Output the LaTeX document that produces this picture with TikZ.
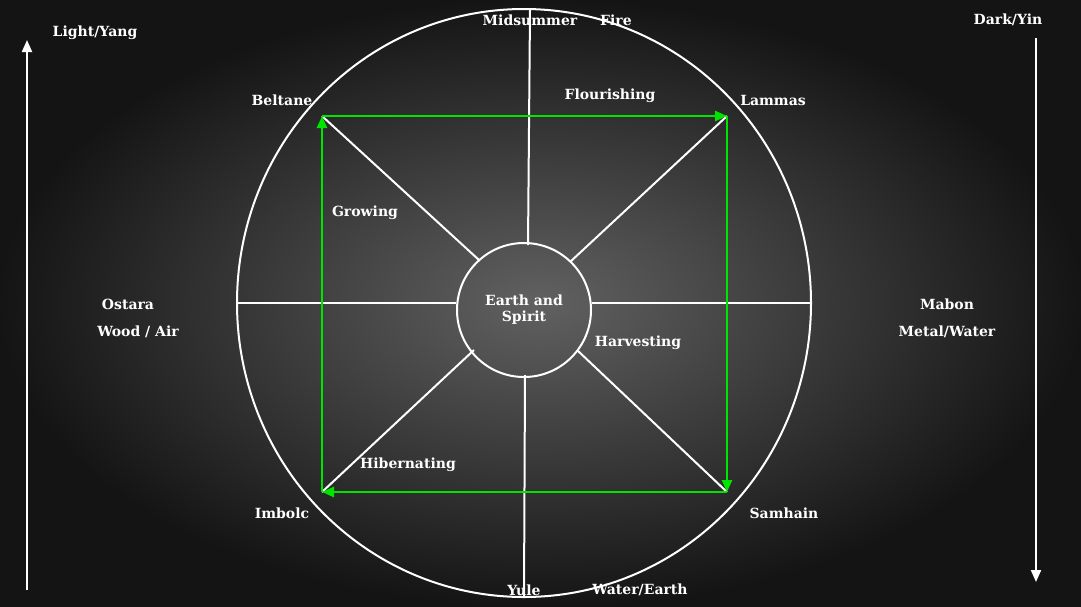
\documentclass[tikz,border=0pt]{standalone}
\usepackage{fontspec}
\setmainfont{DejaVu Serif}
\usetikzlibrary{arrows.meta,shapes.geometric}
\tikzset{>={Triangle[width=10pt,length=12pt]}}
\tikzset{lbl/.style={text=white,font=\fontsize{14}{16}\selectfont\bfseries,inner sep=1pt},
  wline/.style={draw=white,line width=2pt},
  gline/.style={draw=green!90!black,line width=2.6pt,->}}

\begin{document}
\begin{tikzpicture}[x=1pt,y=-1pt]
  \useasboundingbox (0,0) rectangle (1081,606);
  \shade[inner color=black!62!white,outer color=black!92!white] (0,0) rectangle (1081,606);

  % wheel
  \node[ellipse,wline,minimum width=574,minimum height=588] (wheel) at (524,303) {};
  \node[circle,wline,minimum width=134,align=center,lbl] (hub) at (524,310) {Earth and\\Spirit};

  \coordinate (top) at (530,10);   \coordinate (htop) at (528,245);
  \coordinate (bot) at (524,597);  \coordinate (hbot) at (525,375);
  \coordinate (lft) at (237,303);  \coordinate (hlft) at (456,303);
  \coordinate (rgt) at (811,303);  \coordinate (hrgt) at (592,303);
  \coordinate (nw) at (322,116);   \coordinate (hnw) at (479,260);
  \coordinate (ne) at (727,116);   \coordinate (hne) at (570,262);
  \coordinate (sw) at (322,492);   \coordinate (hsw) at (474,350);
  \coordinate (se) at (727,492);   \coordinate (hse) at (577,350);

  \foreach \a/\b in {top/htop,bot/hbot,lft/hlft,rgt/hrgt,nw/hnw,ne/hne,sw/hsw,se/hse}
    \draw[wline] (\a) -- (\b);

  % cycle
  \draw[gline] (nw) -- (ne);
  \draw[gline] (ne) -- (se);
  \draw[gline] (se) -- (sw);
  \draw[gline] (sw) -- (nw);

  % side arrows
  \coordinate (ly0) at (27,590); \coordinate (ly1) at (27,40);
  \coordinate (dy0) at (1036,38); \coordinate (dy1) at (1036,582);
  \draw[wline,->] (ly0) -- (ly1);
  \draw[wline,->] (dy0) -- (dy1);

  % labels
  \node[lbl] (yang) at (95,33) {Light/Yang};
  \node[lbl] (yin) at (1008,20) {Dark/Yin};
  \node[lbl] (midsummer) at (530,20) {Midsummer};
  \node[lbl] (fire) at (616,20) {Fire};
  \node[lbl] (beltane) at (282,100) {Beltane};
  \node[lbl] (lammas) at (773,100) {Lammas};
  \node[lbl] (flourish) at (610,96) {Flourishing};
  \node[lbl] (growing) at (365,213) {Growing};
  \node[lbl] (ostara) at (128,304) {Ostara};
  \node[lbl] (wood) at (138,332) {Wood / Air};
  \node[lbl] (harvest) at (638,343) {Harvesting};
  \node[lbl] (mabon) at (947,304) {Mabon};
  \node[lbl] (metal) at (947,332) {Metal/Water};
  \node[lbl] (hibern) at (408,465) {Hibernating};
  \node[lbl] (imbolc) at (282,513) {Imbolc};
  \node[lbl] (samhain) at (784,513) {Samhain};
  \node[lbl] (yule) at (524,590) {Yule};
  \node[lbl] (water) at (640,590) {Water/Earth};
\end{tikzpicture}
\end{document}
